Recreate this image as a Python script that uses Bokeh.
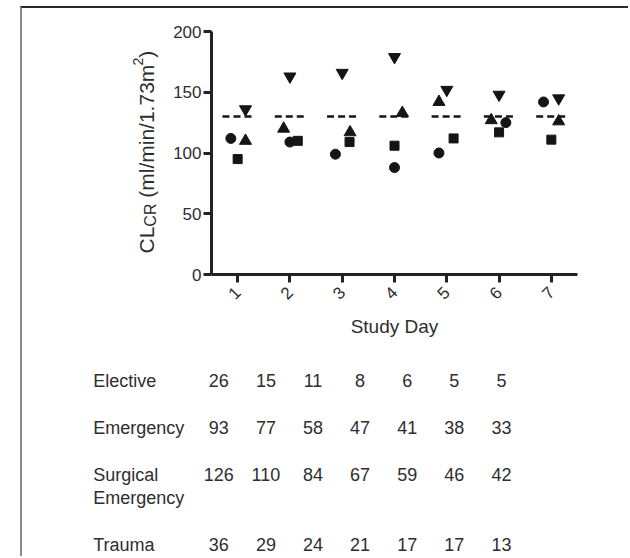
import math
from bokeh.plotting import figure
from bokeh.models import Range1d, FixedTicker, Label, LinearAxis, ColumnDataSource
from bokeh.core.properties import value
from bokeh.embed import file_html
from bokeh.resources import INLINE

# ---------------- data ----------------
days = [1, 2, 3, 4, 5, 6, 7]
circle_vals = [112, 109, 99, 88, 100, 125, 142]
square_vals = [95, 110, 109, 106, 112, 117, 111]
triangle_vals = [110, 120, 117, 133, 142, 127, 126]
inv_triangle_vals = [136, 163, 166, 179, 152, 148, 145]

# horizontal jitter (in days) used in the original to avoid overlap
circle_dx = [-0.13, 0.0, -0.13, 0.0, -0.15, 0.13, -0.15]
square_dx = [0.0, 0.15, 0.14, 0.0, 0.13, 0.0, 0.0]
triangle_dx = [0.15, -0.12, 0.15, 0.15, -0.15, -0.15, 0.14]
inv_triangle_dx = [0.15, 0.0, 0.0, 0.0, 0.0, 0.0, 0.14]

reference_clcr = 130
y_ticks = [0, 50, 100, 150, 200]

table_rows = ["Elective", "Emergency", "Surgical Emergency", "Trauma"]
elective_n = [26, 15, 11, 8, 6, 5, 5]
emergency_n = [93, 77, 58, 47, 41, 38, 33]
surgical_emergency_n = [126, 110, 84, 67, 59, 46, 42]
trauma_n = [36, 29, 24, 21, 17, 17, 13]

# ---------------- layout / style ----------------
FONT = "Liberation Sans"
TXT = "#2e2e2e"
INK = "#151515"
AX = "#222222"

W, H = 608, 550
# pixel box (canvas coords) of the scatter's axes
PL, PR, PT, PB = 189, 555, 23, 266
X0, X1 = 0.5, 7.5
Y0, Y1 = 0, 200
kx = (PR - PL) / (X1 - X0)
ky = (PB - PT) / (Y1 - Y0)
x_range = Range1d(X0 - PL / kx, X1 + (W - PR) / kx)
y_range = Range1d(Y0 - (H - PB) / ky, Y1 + PT / ky)

p = figure(width=W, height=H, output_backend="svg", toolbar_location=None,
           x_range=x_range, y_range=y_range,
           x_axis_location=None, y_axis_location=None,
           min_border=0, background_fill_color="white", border_fill_color="white")
p.styles = {"margin-left": "20px", "margin-top": "6px",
            "border-top": "2px solid #2a2a2a", "border-left": "2px solid #8c8c8c"}
p.outline_line_color = None
p.grid.visible = False

xaxis = LinearAxis(fixed_location=Y0, bounds=(X0, X1),
                   ticker=FixedTicker(ticks=days))
yaxis = LinearAxis(fixed_location=X0, bounds=(Y0, Y1),
                   ticker=FixedTicker(ticks=y_ticks))
for ax in (xaxis, yaxis):
    ax.axis_line_width = 3
    ax.axis_line_color = AX
    ax.major_tick_line_width = 3
    ax.major_tick_line_color = AX
    ax.major_tick_out = 8
    ax.major_tick_in = 0
    ax.minor_tick_line_color = None
    ax.major_label_text_font = FONT
    ax.major_label_text_font_size = "17px"
    ax.major_label_text_color = TXT

xaxis.major_label_orientation = math.pi / 4
xaxis.major_label_standoff = 7
xaxis.axis_label = "Study Day"
xaxis.axis_label_text_font = FONT
xaxis.axis_label_text_font_size = "19px"
xaxis.axis_label_text_font_style = "normal"
xaxis.axis_label_text_color = TXT
xaxis.axis_label_standoff = 8
yaxis.major_label_standoff = 2
p.add_layout(xaxis, "below")
p.add_layout(yaxis, "left")

# reference (normal) clearance dashes
p.segment(x0=[d - 0.29 for d in days], x1=[d + 0.29 for d in days],
          y0=[reference_clcr] * len(days), y1=[reference_clcr] * len(days),
          line_color=INK, line_width=2.5, line_dash="7 4")

def xs(dx):
    return [d + o for d, o in zip(days, dx)]

p.scatter(xs(circle_dx), circle_vals, marker="circle", size=10,
          fill_color=INK, line_color=INK)
p.scatter(xs(square_dx), square_vals, marker="square", size=9,
          fill_color=INK, line_color=INK)
p.scatter(xs(triangle_dx), triangle_vals, marker="triangle", size=12,
          fill_color=INK, line_color=INK)
p.scatter(xs(inv_triangle_dx), inv_triangle_vals, marker="inverted_triangle", size=12,
          fill_color=INK, line_color=INK)

# ---------------- helpers: canvas-pixel layout -> data coords ----------------
def dx_(cx):
    return x_range.start + cx / kx

def dy_(cy):
    return y_range.end - cy / ky

def lab(text, cx, cy, size, angle=0.0, align="left"):
    p.add_layout(Label(x=dx_(cx), y=dy_(cy), text=text, angle=angle,
                       text_font=FONT, text_font_size=f"{size}px",
                       text_color=TXT, text_align=align,
                       text_baseline="alphabetic"))

# ---------------- y-axis title with sub/superscript ----------------
F, S, SUP = 21, 16, 14
base_cx = 124      # baseline of the rotated title (canvas px)
start_cy = 245     # bottom end of the title (canvas px)
a = math.pi / 2
w_cl = 1.278 * F
w_cr = 1.444 * S
w_sp = 0.278 * F
w_main = 6.293 * F
w_2 = 0.556 * SUP
c = start_cy
lab("CL", base_cx, c, F, a)
c -= w_cl
lab("CR", base_cx + 4, c, S, a)
c -= w_cr + w_sp
lab("(ml/min/1.73m", base_cx, c, F, a)
c -= w_main
lab("2", base_cx - 9, c, SUP, a)
c -= w_2
lab(")", base_cx, c, F, a)

# ---------------- table of patient numbers ----------------
label_cx = 70.7
col_cx0, col_step = 196.3, 47.1
row_base = [372, 419, 466, 536]
second_line = 489.5
counts = [elective_n, emergency_n, surgical_emergency_n, trauma_n]

names_x, names_y, names_t = [], [], []
num_x, num_y, num_t = [], [], []
for name, yb, vals in zip(table_rows, row_base, counts):
    parts = name.split(" ") if name == "Surgical Emergency" else [name]
    for k, part in enumerate(parts):
        names_x.append(dx_(label_cx))
        names_y.append(dy_(yb if k == 0 else second_line))
        names_t.append(part)
    for i, v in enumerate(vals):
        num_x.append(dx_(col_cx0 + i * col_step))
        num_y.append(dy_(yb))
        num_t.append(str(v))

p.text(x="x", y="y", text="t",
       source=ColumnDataSource(dict(x=names_x, y=names_y, t=names_t)),
       text_font=value(FONT), text_font_size=value("18px"), text_color=TXT,
       text_align="left", text_baseline="alphabetic")
p.text(x="x", y="y", text="t",
       source=ColumnDataSource(dict(x=num_x, y=num_y, t=num_t)),
       text_font=value(FONT), text_font_size=value("18px"), text_color=TXT,
       text_align="center", text_baseline="alphabetic")

open("out.html", "w").write(file_html(p, INLINE))
